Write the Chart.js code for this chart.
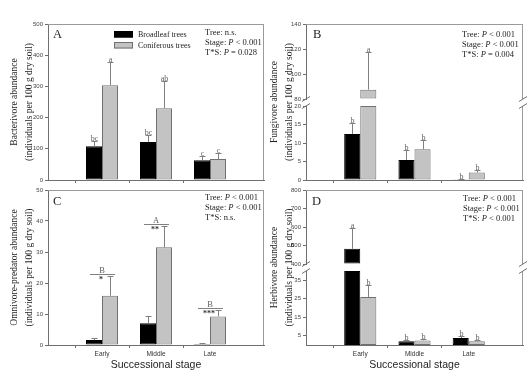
<!DOCTYPE html>
<html><head><meta charset="utf-8">
<script src="https://cdn.jsdelivr.net/npm/chart.js@4.4.0/dist/chart.umd.min.js"></script>
<style>
html,body{margin:0;padding:0;background:#fff;}
#fig{position:relative;width:530px;height:380px;overflow:hidden;background:#fff;}
canvas{position:absolute;}
</style></head><body>
<div id="fig">
<canvas id="cA" width="270" height="186" style="left:0;top:0"></canvas>
<canvas id="cB" width="270" height="186" style="left:260px;top:0"></canvas>
<canvas id="cC" width="270" height="196" style="left:0;top:184px"></canvas>
<canvas id="cD" width="270" height="196" style="left:260px;top:184px"></canvas>
</div>
<script>
// ---------- data ----------
const stages = ['Early', 'Middle', 'Late'];
const seriesNames = ['Broadleaf trees', 'Coniferous trees'];

// A: Bacterivore
const bactBroad = [108, 122, 63];
const bactBroadSE = [16, 23, 13];
const bactConif = [304, 230, 67];
const bactConifSE = [73, 86, 20];
const bactBroadLetters = ['bc', 'bc', 'c'];
const bactConifLetters = ['a', 'ab', 'c'];
const bactTicks = [0, 100, 200, 300, 400, 500];
const statsA = ['Tree: n.s.', 'Stage: _P_ < 0.001', 'T*S: _P_ = 0.028'];

// B: Fungivore
const fungBroad = [12.4, 5.4, 0.2];
const fungBroadSE = [2.9, 2.6, 0.1];
const fungConif = [87.5, 8.3, 2.0];
const fungConifSE = [30, 2.6, 0.6];
const fungBroadLetters = ['b', 'b', 'b'];
const fungConifLetters = ['a', 'b', 'b'];
const fungTicksUpper = [80, 100, 120, 140];
const fungTicksLower = [0, 5, 10, 15, 20];
const statsB = ['Tree: _P_ < 0.001', 'Stage: _P_ < 0.001', 'T*S: _P_ = 0.004'];

// C: Omnivore-predator
const omniBroad = [1.6, 7.0, 0.3];
const omniBroadSE = [0.8, 2.3, 0.2];
const omniConif = [15.9, 31.5, 9.2];
const omniConifSE = [6.4, 7.0, 2.1];
const omniGroupLetters = ['B', 'A', 'B'];
const omniStars = ['*', '**', '***'];
const omniTicks = [0, 10, 20, 30, 40, 50];
const statsC = ['Tree: _P_ < 0.001', 'Stage: _P_ < 0.001', 'T*S: n.s.'];

// D: Herbivore
const herbBroad = [482, 2.0, 3.8];
const herbBroadSE = [115, 0.8, 0.9];
const herbConif = [25.9, 2.5, 2.0];
const herbConifSE = [6.8, 0.9, 0.8];
const herbBroadLetters = ['a', 'b', 'b'];
const herbConifLetters = ['b', 'b', 'b'];
const herbTicksUpper = [400, 500, 600, 700, 800];
const herbTicksLower = [5, 15, 25, 35];
const statsD = ['Tree: _P_ < 0.001', 'Stage: _P_ < 0.001', 'T*S: _P_ < 0.001'];

const xTitle = 'Successional stage';
const yTitleUnit = '(individuals per 100 g dry soil)';

// ---------- styles ----------
const SERIF = '"Liberation Serif","Times New Roman",serif';
const SANS = '"Liberation Sans",Arial,sans-serif';
const AXIS = '#6f6f6f';
const FRAME = '#9a9a9a';
const GRAYFILL = '#c3c3c3';
const GRAYEDGE = '#707070';
const ERR = '#808080';
const TXT = '#1e1e1e';
const LETTER = '#606060';

function richText(ctx, str, x, y, size) {
  const parts = str.split('_');
  let cx = x;
  parts.forEach((p, k) => {
    ctx.font = (k % 2 ? 'italic ' : '') + size + 'px ' + SERIF;
    ctx.fillText(p, cx, y);
    cx += ctx.measureText(p).width;
  });
}

function buildPanel(p) {
  const labels = ['', ...stages, ''];
  const series = [
    {name: seriesNames[0], vals: p.broad, se: p.broadSE, letters: p.broadLetters, fill: '#000', edge: '#000'},
    {name: seriesNames[1], vals: p.conif, se: p.conifSE, letters: p.conifLetters, fill: GRAYFILL, edge: GRAYEDGE}
  ];
  const datasets = [];
  p.segs.forEach(seg => {
    series.forEach((s, si) => {
      datasets.push({
        label: s.name,
        data: [null, ...s.vals.map(v => (seg.min > 0 && v <= seg.min) ? null : Math.min(v, seg.max)), null],
        yAxisID: seg.id, stack: 'ser' + si, base: seg.min,
        backgroundColor: s.fill, borderColor: s.edge, borderWidth: 1, borderSkipped: false,
        categoryPercentage: 32 / 54, barPercentage: 1
      });
    });
  });
  const stacked = p.segs.length > 1;
  const scales = {
    x: {
      type: 'category', labels: labels, offset: false,
      grid: {display: true, drawOnChartArea: false, drawTicks: true, tickLength: 3,
             color: c => (c.index === 0 || c.index === labels.length - 1) ? 'rgba(0,0,0,0)' : AXIS},
      border: {display: true, color: AXIS, width: 1},
      ticks: {display: p.showX, autoSkip: false, maxRotation: 0, padding: 2,
              font: {family: SANS, size: 6.5}, color: '#333'},
      title: p.showX ? {display: true, text: xTitle, color: TXT, font: {family: SANS, size: 10.5},
                        padding: {top: 0, bottom: 8.5}} : {display: false},
      afterFit: s => { s.height = p.xH; }
    }
  };
  const bottomFirst = [...p.segs].reverse();
  bottomFirst.forEach((seg, k) => {
    const sc = {
      type: 'linear', position: 'left', min: seg.min, max: seg.max,
      afterBuildTicks: s => { s.ticks = seg.ticks.map(v => ({value: v})); },
      ticks: {autoSkip: false, padding: 2, font: {family: SANS, size: 6}, color: '#444',
              callback: v => String(v)},
      grid: {display: true, drawOnChartArea: false, tickLength: 3, color: AXIS},
      border: {display: true, color: AXIS, width: 1},
      afterFit: s => { s.width = p.yW; }
    };
    if (stacked) { sc.stack = 'left'; sc.stackWeight = seg.weight; }
    scales[seg.id] = sc;
    if (stacked && k === 0) {
      scales.yGap = {
        type: 'linear', position: 'left', stack: 'left', stackWeight: p.gapWeight,
        ticks: {display: false}, grid: {display: false}, border: {display: false},
        afterFit: s => { s.width = p.yW; }
      };
    }
  });

  const lowIdx = (p.segs.length - 1) * 2;
  const decor = {
    id: 'decor',
    afterDraw(chart) {
      const ctx = chart.ctx, ca = chart.chartArea;
      ctx.save();
      // frame: top and right
      ctx.strokeStyle = FRAME; ctx.lineWidth = 1;
      ctx.beginPath();
      ctx.moveTo(ca.left, ca.top + 0.5); ctx.lineTo(ca.right, ca.top + 0.5);
      p.segs.forEach(seg => {
        const sc = chart.scales[seg.id];
        ctx.moveTo(ca.right - 0.5, sc.top); ctx.lineTo(ca.right - 0.5, sc.bottom);
      });
      ctx.stroke();
      // axis breaks
      if (stacked) {
        ctx.strokeStyle = AXIS;
        ctx.beginPath();
        for (let k = 0; k < p.segs.length - 1; k++) {
          const yA = chart.scales[p.segs[k].id].bottom;
          const yB = chart.scales[p.segs[k + 1].id].top;
          [ca.left, ca.right].forEach(xx => {
            [yA, yB].forEach(yy => {
              ctx.moveTo(xx - 4, yy + 2.5); ctx.lineTo(xx + 4, yy - 2.5);
            });
          });
        }
        ctx.stroke();
      }
      // error bars and letters
      series.forEach((s, si) => {
        const meta = chart.getDatasetMeta(lowIdx + si);
        s.vals.forEach((v, i) => {
          const top = v + s.se[i];
          const seg = p.segs.find(g => top >= g.min && top <= g.max) || p.segs[p.segs.length - 1];
          const sc = chart.scales[seg.id];
          const x = Math.round(meta.data[i + 1].x) + 0.5;
          const y0 = sc.getPixelForValue(Math.max(v, seg.min));
          const y1 = Math.round(sc.getPixelForValue(top)) + 0.5;
          ctx.strokeStyle = ERR; ctx.lineWidth = 1;
          ctx.beginPath();
          ctx.moveTo(x, y0); ctx.lineTo(x, y1);
          ctx.moveTo(x - 3, y1); ctx.lineTo(x + 3, y1);
          ctx.stroke();
          if (s.letters) {
            ctx.fillStyle = LETTER;
            ctx.font = '8px ' + SERIF;
            ctx.textAlign = 'center'; ctx.textBaseline = 'alphabetic';
            ctx.fillText(s.letters[i], x, y1 - 0.5);
          }
        });
      });
      // group annotations (panel C)
      if (p.groupLetters) {
        const sc = chart.scales[p.segs[0].id];
        p.groupLetters.forEach((L, i) => {
          const cx = chart.scales.x.getPixelForValue(i + 1);
          const yy = Math.round(sc.getPixelForValue(p.conif[i] + p.conifSE[i])) - 1.5;
          ctx.strokeStyle = ERR; ctx.lineWidth = 1;
          ctx.beginPath(); ctx.moveTo(cx - 12, yy); ctx.lineTo(cx + 13, yy); ctx.stroke();
          ctx.fillStyle = LETTER; ctx.textAlign = 'center';
          ctx.font = '8.5px ' + SERIF; ctx.textBaseline = 'alphabetic';
          ctx.fillText(L, cx, yy - 1.5);
          ctx.fillStyle = '#333';
          ctx.font = 'bold 8px ' + SERIF; ctx.textBaseline = 'top';
          ctx.fillText(p.stars[i], cx - 1, yy + 1.5);
        });
      }
      // legend
      if (p.legend) {
        const lx = ca.left + 66, ly = ca.top + 7;
        series.forEach((s, si) => {
          const by = ly + si * 11;
          ctx.fillStyle = s.fill; ctx.fillRect(lx, by, 19, 6.5);
          ctx.strokeStyle = s.edge; ctx.lineWidth = 1; ctx.strokeRect(lx + 0.5, by + 0.5, 18, 5.5);
          ctx.fillStyle = TXT; ctx.font = '8px ' + SERIF;
          ctx.textAlign = 'left'; ctx.textBaseline = 'middle';
          ctx.fillText(s.name, lx + 24, by + 3.5);
        });
      }
      // panel letter
      ctx.fillStyle = TXT; ctx.textAlign = 'left'; ctx.textBaseline = 'middle';
      ctx.font = '12.5px ' + SERIF;
      ctx.fillText(p.letter, ca.left + p.letterPos[0], ca.top + p.letterPos[1]);
      // stats
      p.stats.forEach((line, k) => {
        ctx.fillStyle = TXT; ctx.textAlign = 'left'; ctx.textBaseline = 'middle';
        richText(ctx, line, ca.left + p.statsPos[0], ca.top + p.statsPos[1] + k * 9.8, 8.5);
      });
      // y title
      ctx.fillStyle = TXT; ctx.textAlign = 'center'; ctx.textBaseline = 'middle';
      ctx.font = '9.5px ' + SERIF;
      const cy = (ca.top + ca.bottom) / 2;
      p.yTitle.forEach((t, k) => {
        ctx.save();
        ctx.translate(p.yTitleX[k], cy);
        ctx.rotate(-Math.PI / 2);
        ctx.fillText(t, 0, 0);
        ctx.restore();
      });
      ctx.restore();
    }
  };

  return new Chart(document.getElementById(p.canvas), {
    type: 'bar',
    data: {labels: labels, datasets: datasets},
    options: {
      responsive: false, animation: false, devicePixelRatio: 1,
      layout: {padding: p.pad},
      plugins: {legend: {display: false}, tooltip: {enabled: false}},
      scales: scales
    },
    plugins: [decor]
  });
}

buildPanel({
  canvas: 'cA', pad: {top: 24, right: 6, left: 0, bottom: 0}, yW: 48, xH: 6, showX: false,
  broad: bactBroad, broadSE: bactBroadSE, conif: bactConif, conifSE: bactConifSE,
  broadLetters: bactBroadLetters, conifLetters: bactConifLetters,
  segs: [{id: 'y', min: 0, max: 500, ticks: bactTicks}],
  yTitle: ['Bacterivore abundance', yTitleUnit], yTitleX: [14, 29],
  letter: 'A', letterPos: [5, 11], stats: statsA, statsPos: [157, 9], legend: true
});
buildPanel({
  canvas: 'cB', pad: {top: 24, right: 7, left: 0, bottom: 0}, yW: 46, xH: 6, showX: false,
  broad: fungBroad, broadSE: fungBroadSE, conif: fungConif, conifSE: fungConifSE,
  broadLetters: fungBroadLetters, conifLetters: fungConifLetters,
  segs: [{id: 'yUp', min: 80, max: 140, ticks: fungTicksUpper, weight: 75},
         {id: 'yLow', min: 0, max: 20, ticks: fungTicksLower, weight: 74}],
  gapWeight: 7,
  yTitle: ['Fungivore abundance', yTitleUnit], yTitleX: [14, 29],
  letter: 'B', letterPos: [7, 11], stats: statsB, statsPos: [156, 11], legend: false
});
buildPanel({
  canvas: 'cC', pad: {top: 6, right: 6, left: 0, bottom: 0}, yW: 48, xH: 35, showX: true,
  broad: omniBroad, broadSE: omniBroadSE, conif: omniConif, conifSE: omniConifSE,
  groupLetters: omniGroupLetters, stars: omniStars,
  segs: [{id: 'y', min: 0, max: 50, ticks: omniTicks}],
  yTitle: ['Omnivore-predator abundance', yTitleUnit], yTitleX: [14, 29],
  letter: 'C', letterPos: [5, 12], stats: statsC, statsPos: [157, 8], legend: false
});
buildPanel({
  canvas: 'cD', pad: {top: 6, right: 7, left: 0, bottom: 0}, yW: 46, xH: 35, showX: true,
  broad: herbBroad, broadSE: herbBroadSE, conif: herbConif, conifSE: herbConifSE,
  broadLetters: herbBroadLetters, conifLetters: herbConifLetters,
  segs: [{id: 'yUp', min: 400, max: 800, ticks: herbTicksUpper, weight: 74},
         {id: 'yLow', min: 0, max: 40, ticks: herbTicksLower, weight: 74}],
  gapWeight: 7,
  yTitle: ['Herbivore abundance', yTitleUnit], yTitleX: [14, 29],
  letter: 'D', letterPos: [6, 12], stats: statsD, statsPos: [157, 9], legend: false
});
</script>
</body></html>
